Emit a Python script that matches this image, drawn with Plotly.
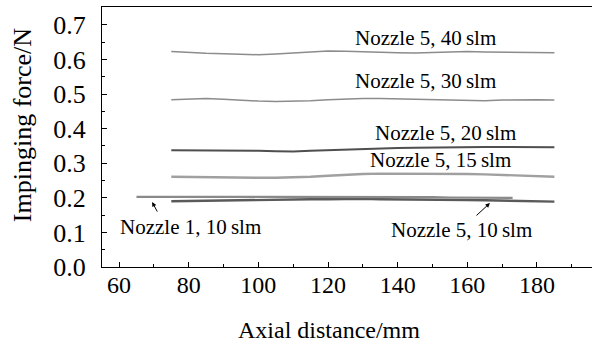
import plotly.graph_objects as go

# Axial positions (mm) at which the impinging force was sampled
x_n5 = [75, 80, 85, 90, 95, 100, 105, 110, 115, 120, 125, 130, 135, 140, 145, 150,
        155, 160, 165, 170, 175, 180, 185]
x_n1 = [65, 70, 75, 80, 85, 90, 95, 100, 105, 110, 115, 120, 125, 130, 135, 140,
        145, 150, 155, 160, 165, 170, 173]

# Impinging force (N)
f_n5_40 = [0.623, 0.620, 0.618, 0.617, 0.615, 0.614, 0.616, 0.619, 0.623, 0.625, 0.624, 0.622,
           0.621, 0.620, 0.619, 0.621, 0.622, 0.623, 0.622, 0.621, 0.621, 0.620, 0.620]
f_n5_30 = [0.484, 0.486, 0.487, 0.485, 0.482, 0.480, 0.479, 0.479, 0.481, 0.484, 0.486, 0.487,
           0.487, 0.486, 0.484, 0.483, 0.481, 0.480, 0.481, 0.483, 0.484, 0.484, 0.483]
f_n5_20 = [0.338, 0.338, 0.337, 0.337, 0.336, 0.336, 0.335, 0.334, 0.336, 0.338, 0.340, 0.342,
           0.343, 0.344, 0.345, 0.346, 0.346, 0.347, 0.347, 0.347, 0.347, 0.346, 0.346]
f_n5_15 = [0.261, 0.260, 0.260, 0.259, 0.259, 0.258, 0.258, 0.259, 0.261, 0.264, 0.267, 0.269,
           0.270, 0.270, 0.271, 0.270, 0.270, 0.269, 0.268, 0.266, 0.264, 0.262, 0.261]
f_n5_10 = [0.190, 0.191, 0.192, 0.193, 0.193, 0.194, 0.195, 0.195, 0.196, 0.196, 0.197, 0.197,
           0.196, 0.196, 0.196, 0.195, 0.195, 0.194, 0.193, 0.192, 0.191, 0.190, 0.189]
f_n1_10 = [0.203, 0.203, 0.202, 0.202, 0.203, 0.203, 0.204, 0.204, 0.204, 0.203, 0.203, 0.202,
           0.202, 0.202, 0.203, 0.203, 0.202, 0.202, 0.201, 0.201, 0.200, 0.200, 0.200]

series_labels = ["Nozzle 5, 40\u2009slm", "Nozzle 5, 30\u2009slm", "Nozzle 5, 20\u2009slm",
                 "Nozzle 5, 15\u2009slm", "Nozzle 5, 10\u2009slm", "Nozzle 1, 10\u2009slm"]
label_x = [148.1, 148.1, 153.6, 152.4, 158.2, 80.4]
label_y = [0.662, 0.538, 0.388, 0.310, 0.107, 0.116]

x_title = "Axial distance/mm"
y_title = "Impinging force/N"

FONT = "Liberation Serif"

fig = go.Figure()

traces = [
    (x_n5, f_n5_40, "#8c8c8c", 1.5),
    (x_n5, f_n5_30, "#8c8c8c", 1.5),
    (x_n5, f_n5_20, "#4f4f4f", 2.0),
    (x_n5, f_n5_15, "#a0a0a0", 2.4),
    (x_n5, f_n5_10, "#5a5a5a", 2.4),
    (x_n1, f_n1_10, "#8a8a8a", 2.2),
]
for (xs, ys, col, w), name in zip(traces, series_labels):
    fig.add_trace(go.Scatter(x=xs, y=ys, mode="lines", name=name,
                             line=dict(color=col, width=w), showlegend=False))

for text, lx, ly in zip(series_labels, label_x, label_y):
    fig.add_annotation(x=lx, y=ly, xref="x", yref="y", text=text, showarrow=False,
                       font=dict(family=FONT, size=21, color="black"))

# Pointers from the two 10 slm labels to their curves
fig.add_annotation(x=69.5, y=0.188, ax=71.2, ay=0.156, xref="x", yref="y",
                   axref="x", ayref="y", text="", showarrow=True, arrowhead=2,
                   arrowsize=0.9, arrowwidth=1, arrowcolor="black")
fig.add_annotation(x=166.5, y=0.185, ax=162.2, ay=0.145, xref="x", yref="y",
                   axref="x", ayref="y", text="", showarrow=True, arrowhead=2,
                   arrowsize=0.9, arrowwidth=1, arrowcolor="black")

# Axis titles placed as free text below and left of the frame
fig.add_annotation(x=0.463, y=-0.242, xref="paper", yref="paper", text=x_title,
                   showarrow=False, xanchor="center", yanchor="middle",
                   font=dict(family=FONT, size=24, color="black"))
fig.add_annotation(x=-0.163, y=0.546, xref="paper", yref="paper", text=y_title,
                   showarrow=False, xanchor="center", yanchor="middle", textangle=-90,
                   font=dict(family=FONT, size=26, color="black"))

fig.update_xaxes(range=[55.1, 195.8], tickvals=[60, 80, 100, 120, 140, 160, 180],
                 ticks="inside", ticklen=5, tickwidth=1, tickcolor="black",
                 minor=dict(dtick=10, tick0=0, ticks="inside", ticklen=3, tickcolor="black"),
                 showline=True, linecolor="black", linewidth=1.2, mirror=True,
                 showgrid=False, zeroline=False, ticklabelstandoff=-4,
                 tickfont=dict(family=FONT, size=24, color="black"))
fig.update_yaxes(range=[0, 0.752], tickvals=[0, 0.1, 0.2, 0.3, 0.4, 0.5, 0.6, 0.7],
                 tickformat=".1f",
                 ticks="inside", ticklen=5, tickwidth=1, tickcolor="black",
                 minor=dict(dtick=0.05, tick0=0, ticks="inside", ticklen=3, tickcolor="black"),
                 showline=True, linecolor="black", linewidth=1.2, mirror=False,
                 showgrid=False, zeroline=False, ticklabelstandoff=10,
                 tickfont=dict(family=FONT, size=26, color="black"))

fig.update_layout(width=592, height=345, margin=dict(l=102, r=0, t=7, b=78),
                  paper_bgcolor="white", plot_bgcolor="white")

fig.write_html("out.html")
